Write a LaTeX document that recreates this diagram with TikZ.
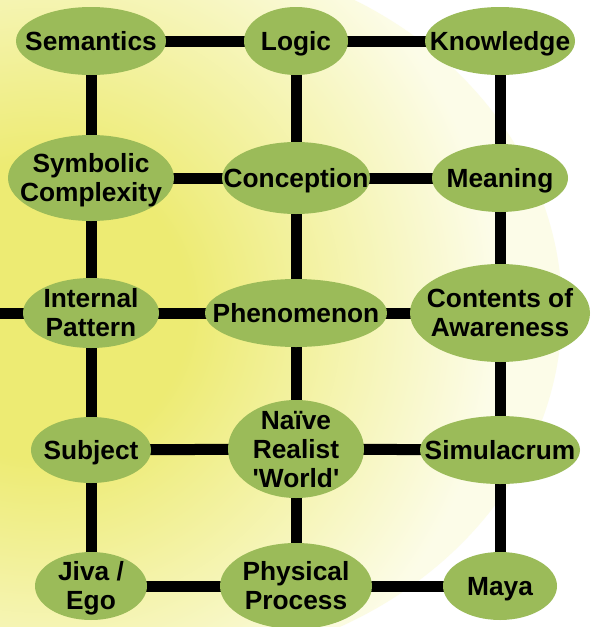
\documentclass[tikz,border=0pt]{standalone}
\usepackage{fontspec}
\setmainfont{Liberation Sans}
\usetikzlibrary{shapes.geometric}
\definecolor{nodegreen}{HTML}{9BBB59}
\definecolor{bgyellow}{RGB}{237,235,115}
\definecolor{bgpale}{RGB}{252,252,232}
\pgfdeclareradialshading{bgshade}{\pgfpoint{0bp}{0bp}}{color(0bp)=(bgyellow); color(6.2bp)=(bgyellow); color(19bp)=(bgpale); color(50bp)=(bgpale)}
\pgfdeclarelayer{edges}
\pgfsetlayers{edges,main}
\newcommand{\capline}[1]{\smash{#1}\rule{0pt}{18.8pt}}
\begin{document}
\begin{tikzpicture}[x=1pt,y=-1pt,
  concept/.style 2 args={ellipse, fill=nodegreen, inner sep=0pt,
    minimum width=#1pt, minimum height=#2pt},
  lbl/.style={align=center, inner sep=0pt, text=black,
    font=\fontsize{26.3}{29}\selectfont\bfseries},
  link/.style={line width=11pt, black}]
\useasboundingbox (0,0) rectangle (595,627);
% nodes
\node[concept={150}{68}, label={[lbl]center:{\capline{Semantics}}}] (sem) at (91,41) {};
\node[concept={104}{68}, label={[lbl]center:{\capline{Logic}}}] (log) at (296,41) {};
\node[concept={150}{68}, label={[lbl]center:{\capline{Knowledge}}}] (kno) at (500,41) {};
\node[concept={166}{86}, label={[lbl]center:{\capline{Symbolic}\\\capline{Complexity}}}] (sym) at (91,178) {};
\node[concept={148}{72}, label={[lbl]center:{\capline{Conception}}}] (con) at (296,178) {};
\node[concept={136}{68}, label={[lbl]center:{\capline{Meaning}}}] (mea) at (500,178) {};
\node[concept={136}{70}, label={[lbl]center:{\capline{Internal}\\\capline{Pattern}}}] (ip) at (91,313) {};
\node[concept={182}{68}, label={[lbl]center:{\capline{Phenomenon}}}] (phe) at (296,313) {};
\node[concept={180}{98}, label={[lbl]center:{\capline{Contents of}\\\capline{Awareness}}}] (coa) at (500,313) {};
\node[concept={120}{66}, label={[lbl]center:{\capline{Subject}}}] (sub) at (91,450) {};
\node[concept={136}{98}, label={[lbl]center:{\capline{Naïve}\\\capline{Realist}\\\capline{\textquotesingle World\textquotesingle}}}] (nrw) at (296,449) {};
\node[concept={160}{68}, label={[lbl]center:{\capline{Simulacrum}}}] (sim) at (500,450) {};
\node[concept={112}{68}, label={[lbl]center:{\capline{Jiva /}\\\capline{Ego}}}] (jiv) at (91,586) {};
\node[concept={152}{86}, label={[lbl]center:{\capline{Physical}\\\capline{Process}}}] (phy) at (296,586) {};
\node[concept={114}{68}, label={[lbl]center:{\capline{Maya}}}] (may) at (500,586) {};
\coordinate (leftedge) at (0,313);
% background and connectors
\begin{pgfonlayer}{edges}
\fill[white] (0,0) rectangle (595,627);
\begin{scope}
\clip (150,310) ellipse [x radius=412pt, y radius=357pt];
\shade[shading=bgshade] (40,310) circle (600pt);
\end{scope}
\draw[link] (sem.center) -- (log.center) -- (kno.center);
\draw[link] (sym.center) -- (con.center) -- (mea.center);
\draw[link] (leftedge) -- (ip.center) -- (phe.center) -- (coa.center);
\draw[link] (sub.center) -- (nrw.center) -- (sim.center);
\draw[link] (jiv.center) -- (phy.center) -- (may.center);
\draw[link] (sem.center) -- (sym.center) -- (ip.center) -- (sub.center) -- (jiv.center);
\draw[link] (log.center) -- (con.center) -- (phe.center) -- (nrw.center) -- (phy.center);
\draw[link] (kno.center) -- (mea.center) -- (coa.center) -- (sim.center) -- (may.center);
\end{pgfonlayer}
\end{tikzpicture}
\end{document}
